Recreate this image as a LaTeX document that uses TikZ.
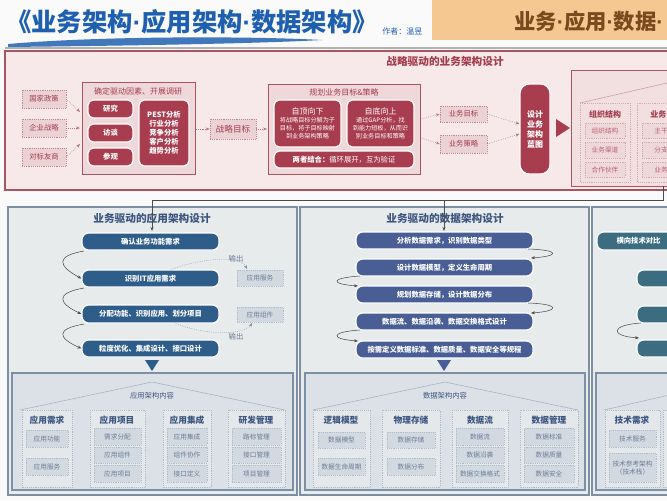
\documentclass[tikz,border=0pt]{standalone}
\usepackage{fontspec}
\setmainfont{Noto Sans CJK SC}
\newfontfamily\latinf{Liberation Sans}
\newcommand\md{{\latinf\bfseries ·}}
\usetikzlibrary{arrows.meta}
\definecolor{titleblue}{HTML}{1F5FAF}
\definecolor{orng}{HTML}{F4C890}
\definecolor{brown}{HTML}{7A4A1E}
\definecolor{pinkbg}{HTML}{F7E9E9}
\definecolor{pinkbd}{HTML}{A85563}
\definecolor{pinkin}{HTML}{EFD8DA}
\definecolor{pinkdash}{HTML}{EAD2D5}
\definecolor{redbox}{HTML}{A83D50}
\definecolor{redtxt}{HTML}{A53C4E}
\definecolor{graybg}{HTML}{E8EBEC}
\definecolor{graybd}{HTML}{7D8FA5}
\definecolor{grayin}{HTML}{DCE1E7}
\definecolor{grayitem}{HTML}{D3D9E1}
\definecolor{appblue}{HTML}{2F5D8A}
\definecolor{datablue}{HTML}{4A5E96}
\definecolor{teal}{HTML}{3B6C80}
\definecolor{bluetxt}{HTML}{3D5680}
\definecolor{graytxt}{HTML}{6A7D96}
\newcommand\bx[7]{\node[#6, minimum width={(#4-#2)*0.75pt}, minimum height={(#5-#3)*0.75pt}] (#1) at ({(#2+#4)/2},{(#3+#5)/2}) {#7};}
\newcommand\rc[5]{\draw[#5] (#1,#2) rectangle (#3,#4);}
\tikzset{x=0.75pt,y=-0.75pt,
 every node/.style={inner sep=0pt, align=center, font=\fontsize{5.5}{6.5}\selectfont},
 pdash/.style={draw=pinkbd!70, densely dotted, fill=pinkdash, text=redtxt, font=\fontsize{5.5}{6.5}\selectfont},
 rbox/.style={fill=redbox, draw=white, line width=0.9pt, rounded corners=4pt, text=white, font=\fontsize{5.5}{6.8}\selectfont\bfseries},
 abox/.style={fill=appblue, draw=white, line width=0.9pt, rounded corners=5pt, text=white, font=\fontsize{5.5}{6.5}\selectfont\bfseries},
 dbox/.style={abox, fill=datablue},
 tbox/.style={abox, fill=teal},
 gitem/.style={draw=graybd!60, densely dotted, fill=grayitem, text=graytxt, font=\fontsize{5}{6}\selectfont},
 pitem/.style={draw=pinkbd!50, densely dotted, fill=pinkin, text=redtxt!80, font=\fontsize{5}{6}\selectfont},
 gcol/.style={draw=graybd!60, densely dotted, fill=graybg!70!grayin},
 ghead/.style={text=bluetxt, font=\fontsize{6.5}{7}\selectfont\bfseries},
 parr/.style={-{Stealth[length=3pt]}, densely dotted, draw=pinkbd!80, thin},
 curv/.style={-{Stealth[length=3pt]}, draw=black!70, thin},
 dcurv/.style={-{Stealth[length=3pt]}, densely dotted, draw=graybd, thin}}
\begin{document}
\begin{tikzpicture}
\useasboundingbox (0,0) rectangle (667,500);
\fill[white!96!gray] (0,0) rectangle (667,500);
% header
\fill[orng] (432,0) rectangle (667,40);
\node[text=titleblue, font=\fontsize{19}{20}\selectfont\bfseries, anchor=west] (ttl) at (6,22) {《业务架构\md 应用架构\md 数据架构》};
\node[text=titleblue, font=\fontsize{6}{7}\selectfont, anchor=west] (auth) at (382,31) {作者：温昱};
\node[text=brown, font=\fontsize{16}{17}\selectfont\bfseries, anchor=west] (ttl2) at (514,21) {业务\md 应用\md 数据\md};
\fill[titleblue!85] (8,44) .. controls (100,36) and (250,36) .. (322,40) .. controls (250,44) and (100,46) .. (8,47) -- cycle;
\draw[gray!60, line width=0.8pt] (5,48) -- (667,48);
% top panel
\rc{5}{51}{672}{190}{fill=pinkbg, draw=pinkbd, line width=0.8pt}
\node[text=redtxt, font=\fontsize{8}{9}\selectfont\bfseries] (ptitle) at (445,61) {战略驱动的业务架构设计};
\bx{in1}{22}{90}{66}{108}{pdash}{国家政策}
\bx{in2}{22}{119}{66}{137}{pdash}{企业战略}
\bx{in3}{22}{148}{66}{166}{pdash}{对标友商}
\rc{82}{82}{195}{174}{fill=pinkin, draw=pinkbd, line width=0.6pt}
\node[text=redtxt, font=\fontsize{6}{7}\selectfont] (g1t) at (138,91) {确定驱动因素、开展调研};
\bx{yj}{88}{100}{133}{118}{rbox}{研究}
\bx{ft}{88}{124}{133}{142}{rbox}{访谈}
\bx{cg}{88}{148}{133}{166}{rbox}{参观}
\bx{pest}{139}{100}{189}{166}{rbox}{PEST分析\\行业分析\\竞争分析\\客户分析\\趋势分析}
\draw[parr] (in1.east) -- (80,112);
\draw[parr] (in2.east) -- (80,128);
\draw[parr] (in3.east) -- (80,144);
\bx{zlmb}{210}{119}{256}{139}{pdash, font=\fontsize{6.5}{7}\selectfont}{战略目标}
\draw[parr] (196,129) -- (zlmb.west);
\rc{268}{84}{420}{174}{fill=pinkin, draw=pinkbd, line width=0.6pt}
\node[text=redtxt, font=\fontsize{6}{7}\selectfont] (g2t) at (344,92) {规划业务目标\&策略};
\draw[parr] (zlmb.east) -- (267,129);
\bx{zd}{274}{100}{341}{147}{rbox, font=\fontsize{4.6}{6}\selectfont}{{\fontsize{6}{7}\selectfont 自顶向下}\\将战略目标分解为子\\目标，将子目标映射\\到业务架构策略}
\bx{zu}{347}{100}{414}{147}{rbox, font=\fontsize{4.6}{6}\selectfont}{{\fontsize{6}{7}\selectfont 自底向上}\\通过GAP分析，找\\到能力短板，从而识\\别业务目标和策略}
\bx{lz}{274}{151}{414}{168}{rbox}{两者结合：{\mdseries 循环展开，互为验证}}
\bx{ywmb}{440}{106}{487}{122}{pdash}{业务目标}
\bx{ywcl}{440}{135}{487}{153}{pdash}{业务策略}
\draw[parr] (421,119) -- (ywmb.west);
\draw[parr] (421,138) -- (ywcl.west);
\bx{lt}{520}{84}{550}{174}{rbox, rounded corners=7pt, font=\fontsize{6}{7.5}\selectfont\bfseries}{设计\\业务\\架构\\蓝图}
\draw[parr, draw=gray] (ywmb.east) -- (lt.west |- 0,124);
\draw[parr, draw=gray] (ywcl.east) -- (lt.west |- 0,134);
\fill[redbox] (556,119) -- (570,128) -- (556,137) -- cycle;
\rc{571}{70}{672}{186}{fill=pinkin!60!pinkbg, draw=pinkbd, line width=0.6pt}
\draw[pinkbd!60] (580,103) -- (680,80);
\rc{580}{103}{630}{182}{pinkbd!50, densely dotted}
\rc{637}{103}{672}{182}{pinkbd!50, densely dotted}
\node[text=redtxt, font=\fontsize{6}{7}\selectfont\bfseries] (zzh) at (605,114) {组织结构};
\bx{z1}{585}{123}{625}{138}{pitem}{组织结构}
\bx{z2}{585}{142}{625}{158}{pitem}{业务渠道}
\bx{z3}{585}{162}{625}{177}{pitem}{合作伙伴}
\node[text=redtxt, font=\fontsize{6}{7}\selectfont\bfseries, anchor=west] (ywh) at (650,114) {业务};
\bx{y1}{642}{123}{680}{138}{pitem}{主干}
\bx{y2}{642}{142}{680}{158}{pitem}{分支}
\bx{y3}{642}{162}{680}{177}{pitem}{业务}
% bottom panels
\rc{8}{207}{297}{495}{fill=graybg, draw=graybd, line width=0.8pt}
\rc{300}{207}{589}{495}{fill=graybg, draw=graybd, line width=0.8pt}
\rc{592}{207}{672}{495}{fill=graybg, draw=graybd, line width=0.8pt}
\node[text=bluetxt, font=\fontsize{8}{9}\selectfont\bfseries] (at) at (152,218) {业务驱动的应用架构设计};
\node[text=bluetxt, font=\fontsize{8}{9}\selectfont\bfseries] (dt) at (445,218) {业务驱动的数据架构设计};
\coordinate (c0) at (663,186);
\draw[black!70, -{Stealth[length=3pt]}] (c0) -- (663,200) -- (152,200) -- (152,231);
\draw[black!70, -{Stealth[length=3pt]}] (444,200) -- (444,231);
% app steps
\bx{a1}{82}{233}{219}{250}{abox}{确认业务功能需求}
\bx{a2}{82}{270}{219}{287}{abox}{识别IT应用需求}
\bx{a3}{82}{305}{219}{323}{abox}{分配功能、识别应用、划分项目}
\bx{a4}{82}{340}{219}{357}{abox}{粒度优化、集成设计、接口设计}
\draw[curv] (84,251) .. controls (55,256) and (58,266) .. (a2.west);
\draw[curv] (84,288) .. controls (55,293) and (58,303) .. (a3.west);
\draw[curv] (84,324) .. controls (55,329) and (58,338) .. (a4.west);
\bx{as}{237}{270}{283}{286}{gitem}{应用服务}
\bx{ac}{237}{307}{283}{322}{gitem}{应用组件}
\draw[dcurv] (170,270) .. controls (200,258) and (240,255) .. (247,269);
\draw[dcurv] (175,323) .. controls (205,336) and (245,335) .. (252,323);
\node[text=graytxt] (o1) at (236,259) {输出};
\node[text=graytxt] (o2) at (236,337) {输出};
\fill[appblue] (145,360) -- (159,360) -- (152,371) -- cycle;
% data steps
\bx{d1}{356}{232}{533}{249}{dbox}{分析数据需求，识别数据类型}
\bx{d2}{356}{259}{533}{276}{dbox}{设计数据模型，定义生命周期}
\bx{d3}{356}{286}{533}{303}{dbox}{规划数据存储，设计数据分布}
\bx{d4}{356}{313}{533}{330}{dbox}{数据流、数据沿袭、数据交换格式设计}
\bx{d5}{356}{341}{533}{358}{dbox}{按需定义数据标准、数据质量、数据安全等规程}
\draw[curv] (528,249) .. controls (560,250) and (560,256) .. (531,258);
\draw[curv] (360,276) .. controls (330,278) and (330,284) .. (358,286);
\draw[curv] (528,303) .. controls (560,304) and (560,311) .. (531,313);
\draw[curv] (360,330) .. controls (330,332) and (330,339) .. (358,341);
\fill[datablue] (437,360) -- (451,360) -- (444,371) -- cycle;
% tech steps
\bx{t1}{597}{232}{680}{250}{tbox}{横向技术对比}
\bx{t2}{637}{270}{680}{287}{tbox}{}
\bx{t3}{637}{306}{680}{323}{tbox}{}
\bx{t4}{637}{340}{680}{357}{tbox}{}
\draw[curv] (641,323) .. controls (610,325) and (610,336) .. (639,338);
% content boxes
\rc{12}{373}{293}{490}{fill=grayin, draw=graybd, line width=0.8pt}
\rc{305}{373}{585}{490}{fill=grayin, draw=graybd, line width=0.8pt}
\rc{596}{373}{672}{490}{fill=grayin, draw=graybd, line width=0.8pt}
\draw[graybd!70] (20,410) -- (152,382) -- (285,410);
\draw[graybd!70] (313,410) -- (445,382) -- (578,410);
\draw[graybd!70] (604,410) -- (700,388);
\node[text=bluetxt] (ac0) at (152,396) {应用架构内容};
\node[text=bluetxt] (dc0) at (445,396) {数据架构内容};
% app columns
\rc{22}{410}{72}{487}{gcol}
\rc{90}{410}{145}{487}{gcol}
\rc{163}{410}{211}{487}{gcol}
\rc{228}{410}{285}{487}{gcol}
\node[ghead] (ah1) at (47,420) {应用需求};
\node[ghead] (ah2) at (117,420) {应用项目};
\node[ghead] (ah3) at (187,420) {应用集成};
\node[ghead] (ah4) at (256,420) {研发管理};
\bx{ai1}{26}{430}{68}{447}{gitem}{应用功能}
\bx{ai2}{26}{458}{68}{475}{gitem}{应用服务}
\bx{ai3}{94}{428}{141}{445}{gitem}{需求分配}
\bx{ai4}{94}{447}{141}{463}{gitem}{应用组件}
\bx{ai5}{94}{465}{141}{482}{gitem}{应用项目}
\bx{ai6}{167}{428}{207}{445}{gitem}{应用集成}
\bx{ai7}{167}{447}{207}{463}{gitem}{组件协作}
\bx{ai8}{167}{465}{207}{482}{gitem}{接口定义}
\bx{ai9}{232}{428}{281}{445}{gitem}{路标管理}
\bx{ai10}{232}{447}{281}{463}{gitem}{接口管理}
\bx{ai11}{232}{465}{281}{482}{gitem}{项目管理}
% data columns
\rc{313}{410}{370}{487}{gcol}
\rc{382}{410}{440}{487}{gcol}
\rc{452}{410}{508}{487}{gcol}
\rc{520}{410}{578}{487}{gcol}
\node[ghead] (dh1) at (341,420) {逻辑模型};
\node[ghead] (dh2) at (411,420) {物理存储};
\node[ghead] (dh3) at (480,420) {数据流};
\node[ghead] (dh4) at (549,420) {数据管理};
\bx{di1}{318}{432}{365}{448}{gitem}{数据模型}
\bx{di2}{318}{458}{365}{475}{gitem}{数据生命周期}
\bx{di3}{387}{432}{435}{448}{gitem}{数据存储}
\bx{di4}{387}{458}{435}{475}{gitem}{数据分布}
\bx{di5}{456}{428}{504}{445}{gitem}{数据流}
\bx{di6}{456}{447}{504}{463}{gitem}{数据沿袭}
\bx{di7}{456}{465}{504}{482}{gitem}{数据交换格式}
\bx{di8}{524}{428}{574}{445}{gitem}{数据标准}
\bx{di9}{524}{447}{574}{463}{gitem}{数据质量}
\bx{di10}{524}{465}{574}{482}{gitem}{数据安全}
% tech column
\rc{605}{410}{660}{487}{gcol}
\rc{663}{410}{680}{487}{gcol}
\node[ghead] (th1) at (632,420) {技术需求};
\bx{ti1}{609}{430}{656}{447}{gitem}{技术服务}
\bx{ti2}{609}{453}{656}{482}{gitem}{技术参考架构\\（技术栈）}
\end{tikzpicture}
\end{document}
